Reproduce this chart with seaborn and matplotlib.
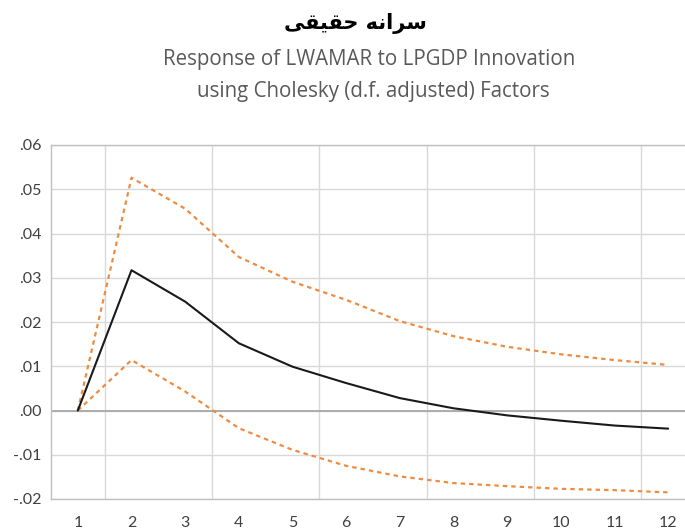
import numpy as np
import pandas as pd
import matplotlib
matplotlib.use('Agg')
import matplotlib.pyplot as plt
import seaborn as sns

# data
periods = [1, 2, 3, 4, 5, 6, 7, 8, 9, 10, 11, 12]
response = [0.0, 0.0317, 0.0246, 0.0152, 0.0099, 0.0062, 0.0028, 0.0005, -0.0011, -0.0023, -0.0034, -0.0041]
upper = [0.0, 0.0526, 0.0456, 0.0347, 0.0291, 0.0250, 0.0202, 0.0168, 0.0144, 0.0127, 0.0114, 0.0103]
lower = [0.0, 0.0114, 0.0043, -0.0040, -0.0089, -0.0125, -0.0149, -0.0164, -0.0171, -0.0177, -0.0180, -0.0185]
yticks = [-0.02, -0.01, 0.00, 0.01, 0.02, 0.03, 0.04, 0.05, 0.06]
ylabels = ['-.02', '-.01', '.00', '.01', '.02', '.03', '.04', '.05', '.06']

title_fa = 'سرانه حقیقی'
sub1 = 'Response of LWAMAR to LPGDP Innovation'
sub2 = 'using Cholesky (d.f. adjusted) Factors'

# matplotlib has no arabic shaping -> map to presentation forms, then reverse
forms = {'س': ('\uFEB1', '\uFEB2', '\uFEB3', '\uFEB4'),
         'ر': ('\uFEAD', '\uFEAE'),
         'ا': ('\uFE8D', '\uFE8E'),
         'ن': ('\uFEE5', '\uFEE6', '\uFEE7', '\uFEE8'),
         'ه': ('\uFEE9', '\uFEEA', '\uFEEB', '\uFEEC'),
         'ح': ('\uFEA1', '\uFEA2', '\uFEA3', '\uFEA4'),
         'ق': ('\uFED5', '\uFED6', '\uFED7', '\uFED8'),
         'ی': ('\uFBFC', '\uFBFD', '\uFBFE', '\uFBFF')}

def shape(s):
    out = []
    for i, c in enumerate(s):
        if c not in forms:
            out.append(c); continue
        p = s[i-1] if i > 0 else ''
        n = s[i+1] if i+1 < len(s) else ''
        jp = p in forms and len(forms[p]) == 4
        jn = n in forms and len(forms[c]) == 4
        k = (3 if jp else 2) if jn else (1 if jp else 0)
        out.append(forms[c][k])
    return ''.join(out)[::-1]

df = pd.DataFrame({'period': periods, 'response': response, 'upper': upper, 'lower': lower})

sns.set_style('white')
plt.rcParams['font.family'] = ['Lato', 'DejaVu Sans']

fig = plt.figure(figsize=(6.85, 5.30), dpi=100)
ax = fig.add_axes([51/685, 1-499/530, 644/685, 354/530])

orange = '#EE8C42'
sns.lineplot(data=df, x='period', y='upper', ax=ax, color=orange, lw=1.6, linestyle=(0, (2.0, 1.8)))
sns.lineplot(data=df, x='period', y='lower', ax=ax, color=orange, lw=1.6, linestyle=(0, (2.0, 1.8)))
sns.lineplot(data=df, x='period', y='response', ax=ax, color='#1a1a1a', lw=1.5)

ax.axhline(0, color='#a8a8a8', lw=1.3, zorder=1)

ax.set_xlim(0.5, 12.5)
ax.set_ylim(-0.02, 0.06)
ax.set_xticks(periods)
ax.set_xticklabels([str(p) for p in periods])
ax.set_xticks(np.arange(1.5, 12, 2), minor=True)
ax.set_yticks(yticks)
ax.set_yticklabels(ylabels)
ax.tick_params(axis='x', which='major', length=0, pad=12, labelsize=11.5, labelcolor='#404040')
ax.tick_params(axis='x', which='minor', length=3, color='#bfbfbf', direction='out')
ax.tick_params(axis='y', length=0, pad=7, labelsize=11.5, labelcolor='#404040')
ax.yaxis.grid(True, color='#d9d9d9', lw=1.0)
ax.xaxis.grid(True, which='minor', color='#d9d9d9', lw=1.0)
ax.xaxis.grid(False, which='major')
ax.set_axisbelow(True)
for s in ax.spines.values():
    s.set_color('#c0c0c0'); s.set_linewidth(1.0)
ax.set_xlabel(''); ax.set_ylabel('')

fig.text(355/685, 1-24/530, shape(title_fa), ha='center', va='center', fontsize=15,
         fontweight='bold', family=['DejaVu Sans'], color='black')
fig.text(369/685, 1-60/530, sub1, ha='center', va='center', fontsize=14.8,
         family=['Open Sans'], color='#595959')
fig.text(373/685, 1-91/530, sub2, ha='center', va='center', fontsize=14.8,
         family=['Open Sans'], color='#595959')

fig.savefig('out.png', dpi=100)
